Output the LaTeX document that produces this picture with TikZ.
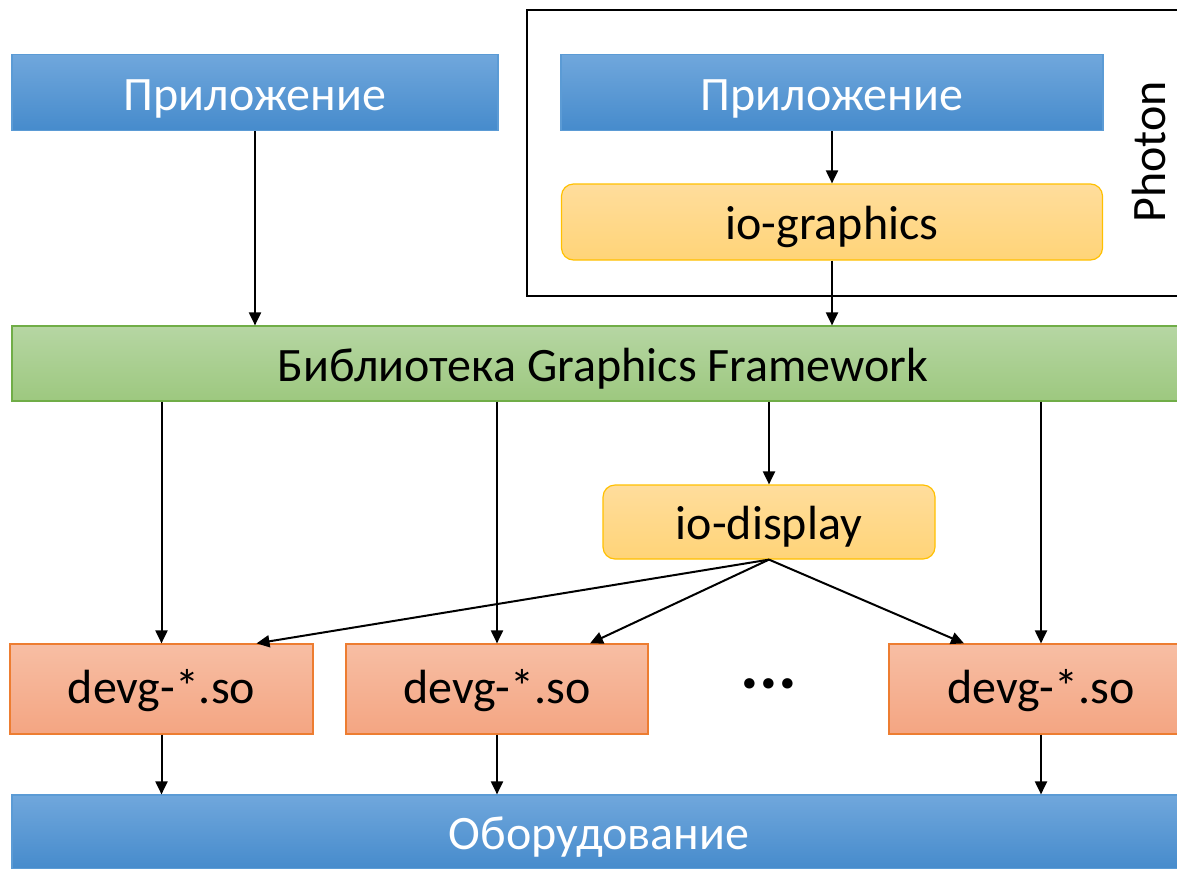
\documentclass[tikz,border=0pt]{standalone}
\usepackage{fontspec}
\setmainfont{Carlito}
\usetikzlibrary{arrows.meta}

\definecolor{blueTop}{RGB}{112,167,220}
\definecolor{blueBot}{RGB}{70,139,204}
\definecolor{blueLine}{RGB}{91,155,213}
\definecolor{goldTop}{RGB}{255,221,156}
\definecolor{goldBot}{RGB}{255,212,120}
\definecolor{goldLine}{RGB}{255,192,0}
\definecolor{greenTop}{RGB}{182,214,163}
\definecolor{greenBot}{RGB}{157,200,127}
\definecolor{greenLine}{RGB}{112,173,71}
\definecolor{peachTop}{RGB}{247,190,164}
\definecolor{peachBot}{RGB}{244,165,130}
\definecolor{peachLine}{RGB}{237,125,49}

\tikzset{
  x=1pt, y=1pt,
  boxtext/.style={font=\fontsize{48}{52}\selectfont, inner sep=0pt,
    text height=35pt, text depth=0pt},
  appbox/.style={boxtext, text=white, draw=blueLine, line width=1.2pt,
    top color=blueTop, bottom color=blueBot},
  iobox/.style={boxtext, draw=goldLine, line width=1.2pt, rounded corners=12pt,
    top color=goldTop, bottom color=goldBot},
  libbox/.style={boxtext, draw=greenLine, line width=1.2pt,
    top color=greenTop, bottom color=greenBot},
  drvbox/.style={boxtext, text height=28pt, draw=peachLine, line width=1.2pt,
    top color=peachTop, bottom color=peachBot},
  link/.style={draw=black, line width=2pt,
    -{Triangle[length=13pt,width=12pt]}, shorten <=0pt, shorten >=0pt},
}

\begin{document}
\begin{tikzpicture}
\useasboundingbox (0,0) rectangle (1177,-868);
\clip (0,0) rectangle (1177,-868);

% Photon group frame
\draw[line width=2.2pt] (527,-10) rectangle (1200,-296);
\node[font=\fontsize{48}{52}\selectfont, rotate=90, inner sep=0pt] (photon) at (1149,-152) {Photon};

% application layer
\node[appbox, minimum width=486pt, minimum height=76pt] (app1) at (255,-92.5) {Приложение};
\node[appbox, minimum width=542pt, minimum height=76pt] (app2) at (832,-92.5) {Приложение};
\node[iobox, minimum width=541pt, minimum height=76pt] (iog) at (832,-222) {io-graphics};

% graphics framework
\node[libbox, minimum width=1182pt, minimum height=75pt] (lib) at (603,-363.5) {Библиотека Graphics Framework};

% display management
\node[iobox, minimum width=332pt, minimum height=74pt] (iod) at (769,-522) {io-display};

% drivers
\node[drvbox, minimum width=303pt, minimum height=90pt] (d1) at (161.5,-689) {devg-*.so};
\node[drvbox, minimum width=302pt, minimum height=90pt] (d2) at (497,-689) {devg-*.so};
\node[drvbox, minimum width=304pt, minimum height=90pt] (d3) at (1041,-689) {devg-*.so};
\node[font=\fontsize{70}{70}\selectfont\bfseries, inner sep=0pt] (dots) at (769,-684) {...};

% hardware
\node[appbox, minimum width=1174pt, minimum height=74pt] (hw) at (599,-832) {Оборудование};

% connectors
\draw[link] (app1.south) -- (app1.south |- lib.north);
\draw[link] (app2.south) -- (iog.north);
\draw[link] (iog.south) -- (iog.south |- lib.north);
\draw[link] (lib.south -| d1.north) -- (d1.north);
\draw[link] (lib.south -| d2.north) -- (d2.north);
\draw[link] (lib.south -| iod.north) -- (iod.north);
\draw[link] (lib.south -| d3.north) -- (d3.north);
\draw[link] (iod.south) -- ([xshift=95pt]d1.north);
\draw[link] (iod.south) -- ([xshift=93pt]d2.north);
\draw[link] (iod.south) -- ([xshift=-77pt]d3.north);
\draw[link] (d1.south) -- (d1.south |- hw.north);
\draw[link] (d2.south) -- (d2.south |- hw.north);
\draw[link] (d3.south) -- (d3.south |- hw.north);
\end{tikzpicture}
\end{document}
